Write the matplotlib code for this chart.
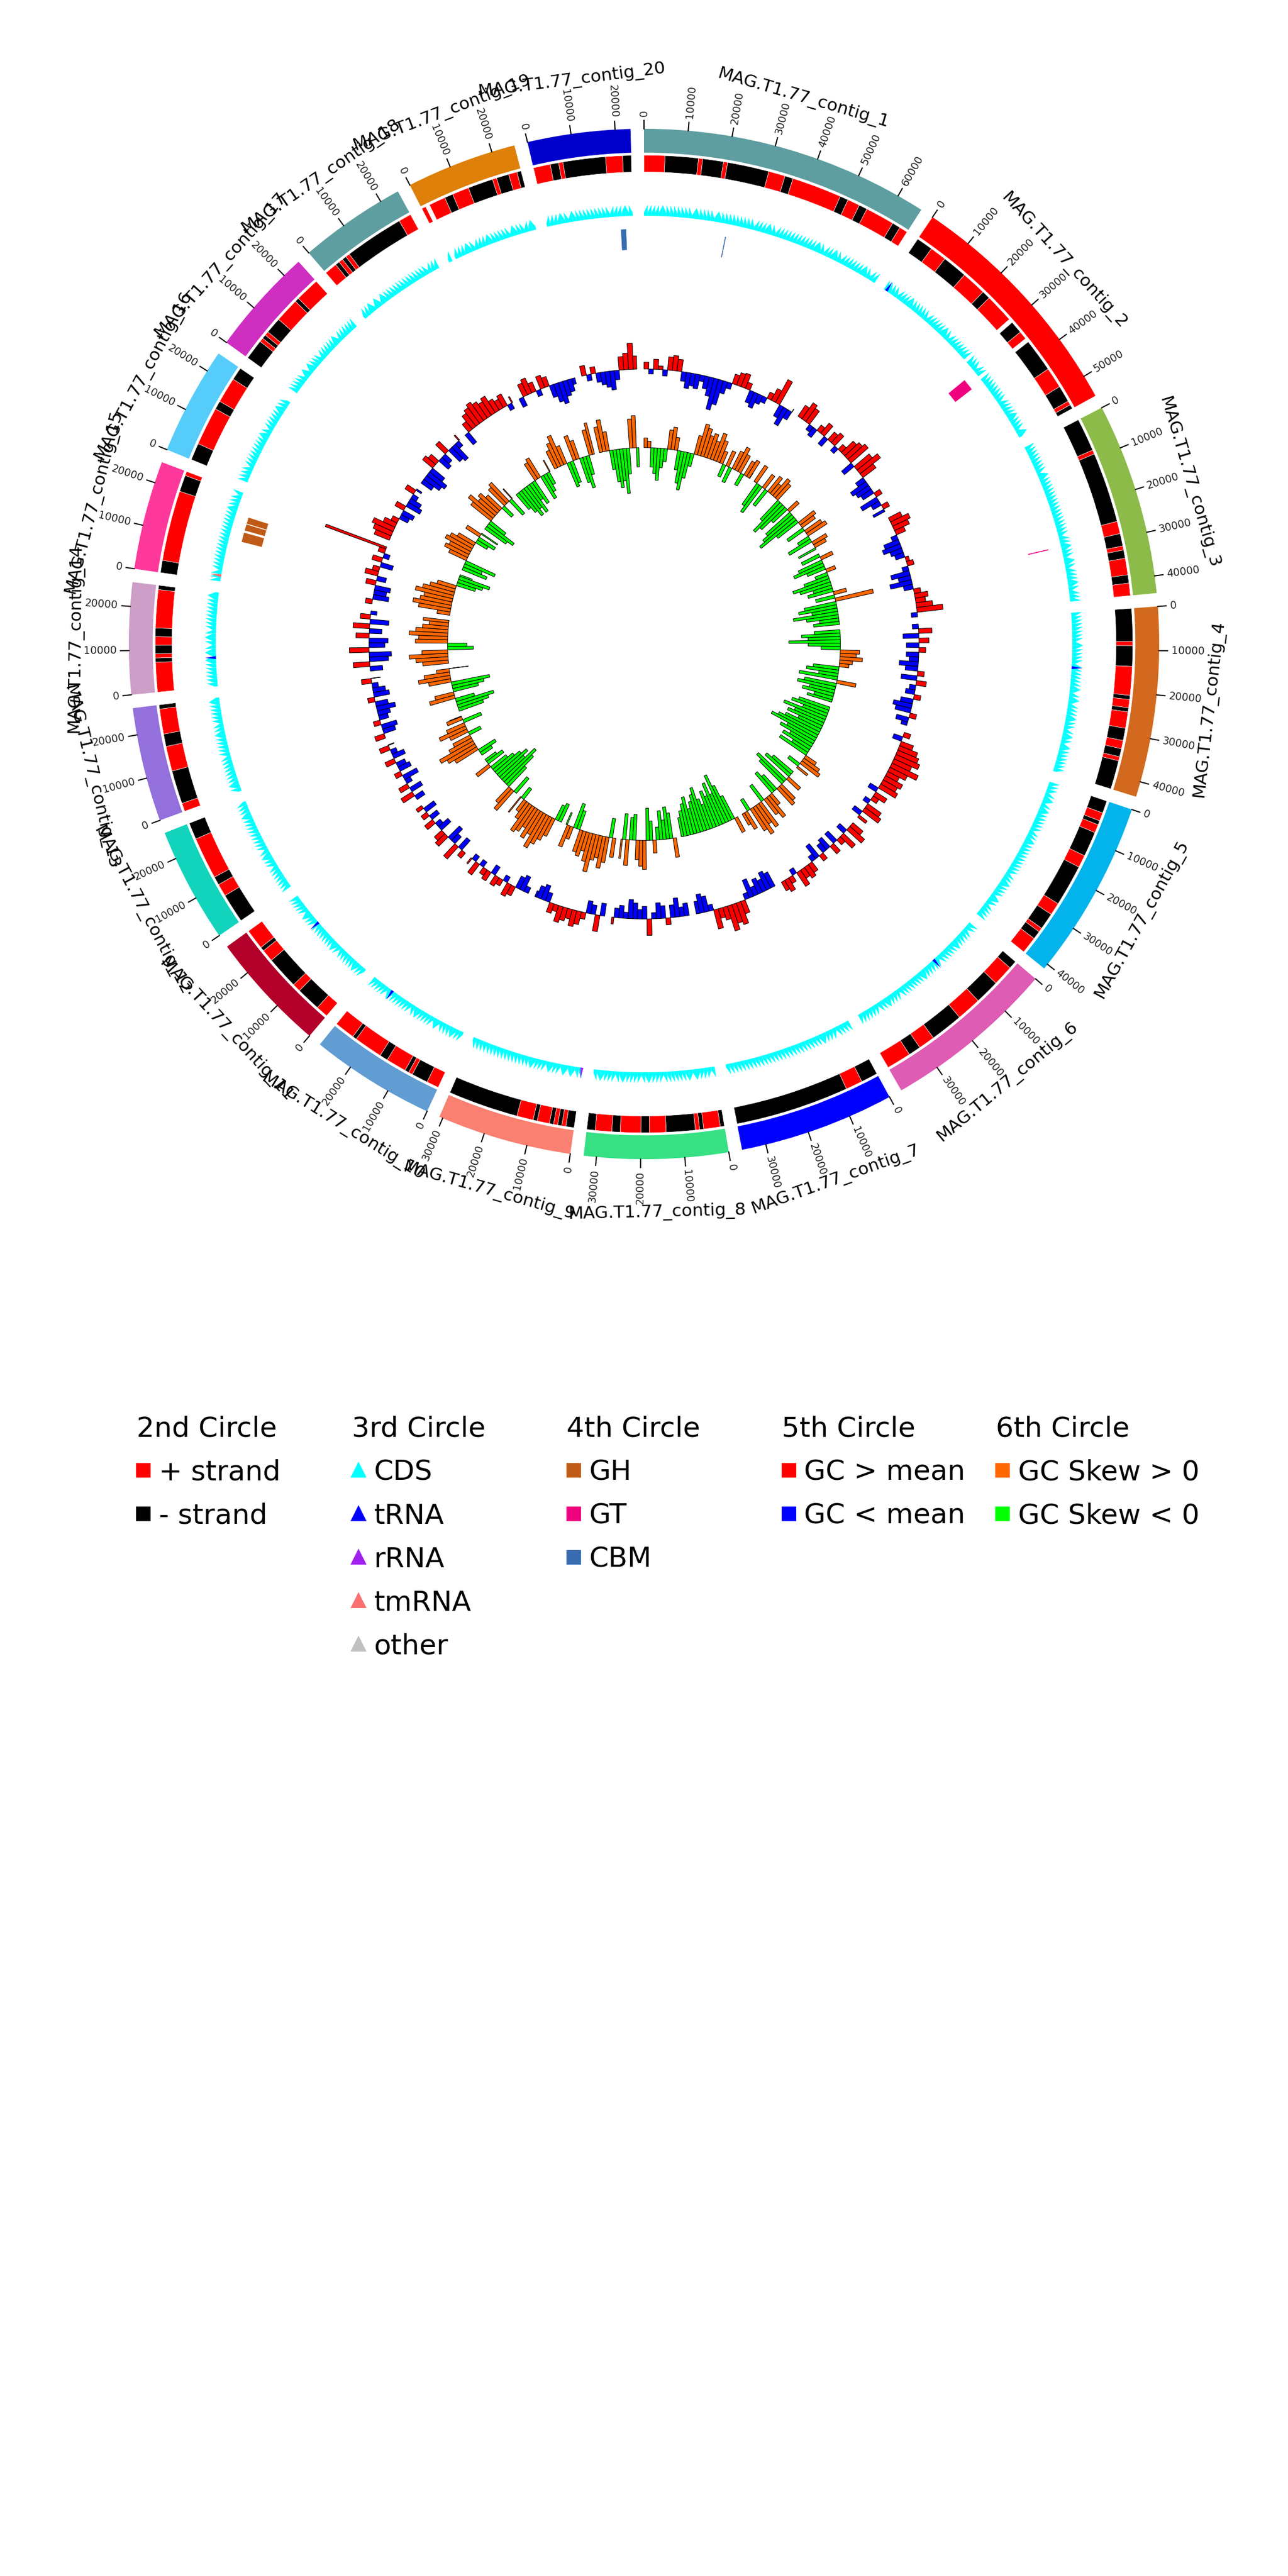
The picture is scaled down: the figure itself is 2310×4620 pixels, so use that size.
# circos-style plot of MAG.T1.77 contigs: strand, features, CAZymes, GC content, GC skew

import numpy as np
import matplotlib
matplotlib.use("Agg")
import matplotlib.pyplot as plt
from matplotlib.lines import Line2D

contig_names = ["MAG.T1.77_contig_%d" % i for i in range(1, 21)]
contig_sizes = [66100, 55100, 43900, 43500, 41200, 39600, 35500, 32900, 30800, 28600,
                27500, 26300, 26100, 25500, 24900, 24700, 24500, 24500, 25300, 23500]
contig_colors = ["#5F9EA0", "#FF0000", "#8CBB4A", "#D2691E", "#03B3EB", "#DE5CB4", "#0000FF",
                 "#36E083", "#FA8072", "#619CD3", "#B3002A", "#12D4BC", "#9370DB", "#CC9EC8",
                 "#FF389C", "#56CCFA", "#CF2FC1", "#5F9EA0", "#DE800A", "#0000CD"]

# 2nd circle: runs of genes, "+N" plus strand, "-N" minus strand, ".N" no gene
strand_runs = [
    "+5 -8 +1 -5 +1 -10 +4 -2 +12 -2 +3 -2 +7 -2 +2",
    "-4 +4 -6 +6 -2 +7 .1 -3 +2 .1 -8 +5 -4 +1 -1",
    "-8 +1 -17 +3 -3 +1 -2 +4 -2 +3",
    "-8 +1 -5 +7 -1 +2 -1 +4 -3 +2 -2 +1 -7",
    "-3 +2 -1 +2 -6 +3 -10 +3 -4 +1 -2 +4",
    "-2 +5 -6 +6 -8 +4 -3 +6",
    "-4 +4 -27",
    "-1 +4 -1 +1 -7 +4 -2 +5 -2 +4 -2",
    "-2 +1 -1 +1 -1 +3 -1 +4 -17",
    "+3 -4 +1 -1 +5 -2 +7 -1 +5",
    "+3 -6 +2 -8 +3 -1 +5",
    "-7 +3 -2 +10 -4",
    "+2 -8 +6 -3 +6 -1",
    "+7 -1 +1 -2 +2 -2 +9 -1",
    "-3 +17 -4 +1",
    "-4 +9 -2 +6 -3",
    "-5 +1 -1 +1 -4 +6 -1 +6",
    "+3 -1 +1 -1 +1 -14 +3",
    "+1 .1 +4 -2 +4 -6 +1 -3 +2 -1",
    "+4 -2 +1 -10 +4 -2",
]

# 3rd circle: non-CDS features (contig number, position bp, type)
rna_features = [(2, 800, "tRNA"), (4, 14900, "tRNA"), (6, 14100, "tRNA"), (10, 22400, "tRNA"),
                (11, 18200, "tRNA"), (14, 7800, "tRNA"), (9, 200, "rRNA"), (15, 1600, "tmRNA")]

# 4th circle: CAZymes (contig number, start, end, family)
cazymes = [(1, 22800, 23200, "CBM"), (20, 20000, 21600, "CBM"), (2, 33400, 36800, "GT"),
           (3, 28600, 29000, "GT"), (15, 11800, 14600, "GH"), (15, 15100, 17000, "GH"),
           (15, 17100, 19000, "GH")]

# 5th / 6th circle: GC content (%) and GC skew per 2 kb window
gc_window = 2000
gc_content = [
    [52, 48.4, 53, 51, 48, 54, 54.6, 53.6, 47, 45, 46, 45.4, 48, 46, 44, 40, 42, 46, 48, 53,
     54, 54.4, 52, 46, 45, 47, 48, 52, 54, 58, 46, 44, 47, 51],
    [54, 56, 55, 48, 47, 52, 54, 47, 53, 54, 48, 52, 55, 56, 57, 46, 56, 58, 55, 47, 44, 45,
     46, 52, 44, 47, 52, 46],
    [54, 56, 55, 53, 48, 45, 44, 46, 47, 51, 52, 48, 44, 46, 43, 47, 52, 54, 53, 55, 58, 48],
    [48, 54, 45, 53, 46, 52, 46, 47, 44, 46, 52, 45, 53, 48, 47, 52, 46, 44, 45, 52, 46, 48],
    [52, 47, 54, 56, 57, 58, 56, 59, 56, 54, 56, 55, 56, 47, 54, 52, 48, 55, 56, 47, 53],
    [54, 56, 47, 55, 52, 46, 53, 46, 47, 52, 45, 48, 53, 54, 53, 55, 48, 52, 54, 53],
    [45, 44, 46, 45, 47, 44, 48, 54, 57, 56, 58, 54, 53, 56, 48, 45, 44, 46],
    [46, 47, 44, 46, 52, 46, 45, 48, 55, 46, 47, 45, 44, 48, 46, 47, 52],
    [46, 55, 47, 46, 52, 54, 55, 53, 54, 55, 52, 53, 47, 45, 46, 48],
    [48, 45, 46, 53, 54, 48, 52, 53, 47, 53, 52, 48, 54, 48, 52],
    [52, 46, 55, 47, 45, 54, 53, 46, 48, 53, 47, 52, 46, 52],
    [47, 54, 46, 53, 48, 45, 52, 46, 47, 53, 46, 48, 53, 48],
    [53, 46, 45, 52, 47, 46, 44, 46, 52, 45, 46, 48, 53, 47],
    [46, 55, 44, 43, 56, 45, 44, 54, 46, 55, 44, 53, 48],
    [52, 45, 46, 45, 53, 47, 54, 52, 46, 53, 48, 52, 70],
    [55, 56, 57, 54, 52, 47, 46, 53, 45, 46, 48, 53, 48],
    [46, 44, 43, 45, 54, 53, 46, 47, 54, 45, 44, 48, 52],
    [46, 53, 55, 56, 57, 56, 55, 56, 54, 53, 54, 48, 52],
    [47, 54, 55, 53, 48, 54, 53, 46, 44, 43, 45, 46, 48],
    [53, 48, 52, 47, 46, 45, 44, 47, 54, 55, 58, 54],
]
gc_skew = [
    [0.06, 0.04, -0.12, -0.16, -0.20, -0.12, -0.08, 0.12, 0.14, 0.08, -0.12, -0.20, -0.24,
     -0.16, -0.08, 0.12, 0.20, 0.18, 0.14, 0.16, 0.12, 0.18, 0.14, 0.08, -0.08, 0.10, -0.10,
     0.12, 0.16, 0.12, -0.08, 0.10, 0.12, 0.04],
    [0.12, -0.16, -0.20, 0.10, -0.12, 0.12, 0.08, 0.14, 0.12, -0.16, -0.24, -0.20, -0.12, 0.08,
     -0.20, -0.24, -0.28, -0.16, 0.12, 0.10, -0.12, 0.12, 0.14, -0.08, -0.16, 0.10, 0.08, -0.12],
    [-0.12, 0.08, -0.16, -0.20, -0.12, 0.06, -0.08, -0.16, -0.24, -0.20, -0.12, -0.16, 0.08,
     -0.12, 0.24, -0.20, -0.24, -0.16, -0.28, -0.20, -0.12, -0.16],
    [-0.16, -0.24, -0.20, -0.32, -0.20, -0.12, 0.12, 0.10, 0.14, 0.08, 0.06, -0.16, -0.20,
     -0.12, -0.24, 0.12, -0.20, -0.24, -0.16, -0.20, -0.12, -0.16],
    [-0.20, -0.24, -0.16, -0.28, -0.20, -0.24, -0.16, -0.24, -0.28, -0.32, -0.20, -0.24, -0.16,
     -0.20, -0.12, -0.20, 0.08, 0.12, 0.14, -0.08, 0.08],
    [-0.16, -0.20, 0.10, -0.24, -0.20, 0.12, 0.14, -0.12, -0.16, 0.08, 0.16, 0.12, -0.12, 0.18,
     0.14, 0.20, 0.16, -0.08, 0.12, 0.08],
    [0.10, -0.16, -0.24, -0.32, -0.20, -0.28, -0.20, -0.24, -0.16, -0.20, -0.28, -0.24, -0.20,
     -0.16, -0.24, -0.20, -0.16, -0.12],
    [0.12, -0.16, -0.20, -0.12, -0.18, -0.08, 0.08, -0.12, -0.20, 0.18, 0.16, 0.12, -0.16,
     -0.14, 0.16, -0.16, 0.12],
    [0.12, -0.12, 0.16, 0.20, 0.14, 0.16, 0.24, 0.18, 0.12, 0.16, 0.14, -0.12, -0.16, 0.08,
     0.14, -0.08],
    [-0.12, -0.10, 0.12, 0.16, 0.20, 0.24, 0.16, 0.20, 0.14, 0.18, 0.20, 0.12, 0.08, -0.08, 0.12],
    [-0.12, 0.16, 0.12, -0.16, -0.24, -0.28, -0.20, -0.24, -0.20, -0.16, -0.12, 0.10, -0.12, -0.08],
    [-0.08, -0.12, 0.16, 0.20, 0.24, 0.16, 0.12, -0.08, 0.12, 0.18, 0.12, -0.12, 0.10, 0.08],
    [-0.16, -0.20, -0.24, -0.12, 0.16, 0.12, -0.16, -0.20, -0.24, 0.14, 0.20, 0.16, 0.08, -0.12],
    [0.16, 0.20, 0.24, 0.16, -0.16, -0.12, 0.20, 0.18, 0.24, 0.20, 0.16, 0.12, 0.16],
    [0.08, 0.20, 0.24, 0.20, 0.18, 0.24, 0.20, 0.16, 0.12, -0.12, -0.16, -0.20, -0.08],
    [-0.16, -0.12, -0.20, 0.12, 0.16, 0.14, 0.18, 0.16, 0.12, -0.08, -0.12, 0.10, -0.12],
    [-0.16, -0.20, -0.12, 0.16, 0.20, 0.14, 0.16, 0.12, -0.08, 0.14, 0.16, -0.12, 0.08],
    [-0.12, -0.16, -0.20, -0.16, -0.20, -0.12, -0.16, 0.12, 0.14, -0.16, -0.12, -0.08, 0.08],
    [0.12, 0.16, 0.20, 0.12, -0.16, -0.14, 0.16, 0.12, -0.16, -0.20, -0.12, 0.16, 0.20],
    [0.16, 0.20, 0.12, -0.12, -0.20, -0.24, -0.20, -0.28, -0.16, 0.18, 0.20, -0.12],
]

feature_colors = {"CDS": "#00FFFF", "tRNA": "#0000FF", "rRNA": "#A020F0", "tmRNA": "#FA7070",
                  "other": "#C0C0C0"}
cazy_colors = {"GH": "#BF5B17", "GT": "#F0027F", "CBM": "#386CB0"}

# radii (axis runs 0..100)
r_contig = (76.3, 80.0)
r_strand = (73.3, 75.9)
r_feat = (66.5, 68.2)
r_cazy = (61.2, 64.5)
gc_base, gc_scale = 42.7, 0.5
skew_base, skew_scale = 30.5, 25.0

space = 1.5
deg_per_bp = (360 - space * len(contig_sizes)) / sum(contig_sizes)
starts = []
pos = 0.0
for size in contig_sizes:
    starts.append(pos)
    pos += size * deg_per_bp + space


def rad(ci, bp):
    return np.deg2rad(starts[ci] + np.asarray(bp) * deg_per_bp)


fig = plt.figure(figsize=(7.7, 15.4), dpi=300)
ax = fig.add_axes([0, 0.5, 1, 0.5], projection="polar")
ax.set_theta_zero_location("N")
ax.set_theta_direction(-1)
ax.set_ylim(0, 100)
ax.axis("off")

gc_mean = np.mean(np.concatenate([np.array(x, dtype=float) for x in gc_content]))
fb, fh = r_feat[0], r_feat[1] - r_feat[0]

for ci, size in enumerate(contig_sizes):
    # outer contig ring
    ax.bar(rad(ci, 0), r_contig[1] - r_contig[0], width=np.deg2rad(size * deg_per_bp),
           bottom=r_contig[0], align="edge", color=contig_colors[ci], linewidth=0)

    # ticks every 10 kb
    for v in range(0, size, 10000):
        th = rad(ci, v)
        deg = starts[ci] + v * deg_per_bp
        ax.plot([th, th], [80.0, 81.3], color="black", lw=0.5)
        if deg <= 180:
            rot, ha = 90 - deg, "left"
        else:
            rot, ha = 270 - deg, "right"
        ax.text(th, 81.9, str(v), rotation=rot, ha=ha, va="center",
                rotation_mode="anchor", fontsize=4.5, color="#222222")

    # contig name
    mid = starts[ci] + size * deg_per_bp / 2
    rot = -mid if (mid <= 90 or mid >= 270) else 180 - mid
    ax.text(np.deg2rad(mid), 88.3, contig_names[ci], rotation=rot, ha="center", va="center",
            rotation_mode="anchor", fontsize=7.5)

    # genes: strand ring (one block per run) + CDS arrows (one per gene)
    runs = [(tok[0], int(tok[1:])) for tok in strand_runs[ci].split()]
    n_genes = sum(n for _, n in runs)
    gene_len = size / n_genes
    g = 0
    for kind, n in runs:
        s_run, e_run = g * gene_len, (g + n) * gene_len
        if kind != ".":
            ax.bar(rad(ci, s_run), r_strand[1] - r_strand[0],
                   width=np.deg2rad((e_run - s_run) * deg_per_bp), bottom=r_strand[0],
                   align="edge", color="#FF0000" if kind == "+" else "#000000",
                   edgecolor="white", linewidth=0.15)
            for k in range(n):
                s, e = (g + k) * gene_len, (g + k + 1) * gene_len
                if kind == "+":
                    ys = [fb, fb + 0.3 * fh, fb + fh, fb]
                else:
                    ys = [fb, fb + fh, fb + 0.3 * fh, fb]
                ax.fill(rad(ci, [s, s, e, e]), ys, color=feature_colors["CDS"], linewidth=0)
        g += n

    # GC content
    vals = np.array(gc_content[ci], dtype=float)
    wstart = np.arange(len(vals)) * gc_window
    wlen = np.minimum(gc_window, size - wstart)
    dev = (vals - gc_mean) * gc_scale
    ax.bar(rad(ci, wstart), dev, width=np.deg2rad(wlen * deg_per_bp), bottom=gc_base,
           align="edge", color=np.where(dev >= 0, "#FF0000", "#0000FF"),
           edgecolor="black", linewidth=0.25)

    # GC skew
    sk = np.array(gc_skew[ci], dtype=float)
    wstart = np.arange(len(sk)) * gc_window
    wlen = np.minimum(gc_window, size - wstart)
    ax.bar(rad(ci, wstart), sk * skew_scale, width=np.deg2rad(wlen * deg_per_bp),
           bottom=skew_base, align="edge", color=np.where(sk >= 0, "#FF6600", "#00FF00"),
           edgecolor="black", linewidth=0.25)

for cno, p, kind in rna_features:
    ci = cno - 1
    ax.fill(rad(ci, [p - 400, p, p + 400]), [fb, fb + fh, fb],
            color=feature_colors[kind], linewidth=0)

for cno, s, e, fam in cazymes:
    ci = cno - 1
    ax.bar(rad(ci, s), r_cazy[1] - r_cazy[0], width=np.deg2rad((e - s) * deg_per_bp),
           bottom=r_cazy[0], align="edge", color=cazy_colors[fam], edgecolor="white",
           linewidth=0.2)

# legends
legend_groups = [
    ("2nd Circle", ["+ strand", "- strand"], ["s", "s"], ["#FF0000", "#000000"]),
    ("3rd Circle", ["CDS", "tRNA", "rRNA", "tmRNA", "other"], ["^"] * 5,
     [feature_colors[k] for k in ["CDS", "tRNA", "rRNA", "tmRNA", "other"]]),
    ("4th Circle", ["GH", "GT", "CBM"], ["s"] * 3, [cazy_colors[k] for k in ["GH", "GT", "CBM"]]),
    ("5th Circle", ["GC > mean", "GC < mean"], ["s", "s"], ["#FF0000", "#0000FF"]),
    ("6th Circle", ["GC Skew > 0", "GC Skew < 0"], ["s", "s"], ["#FF6600", "#00FF00"]),
]
legend_x = [0.106, 0.273, 0.440, 0.607, 0.773]
for (title, labels, markers, colors), x in zip(legend_groups, legend_x):
    handles = [Line2D([], [], marker=m, color=c, linestyle="none", markersize=5.3)
               for m, c in zip(markers, colors)]
    fig.legend(handles, labels, title=title, loc="upper left", bbox_to_anchor=(x, 0.4505),
               frameon=False, fontsize=12, title_fontsize=12, alignment="left",
               handlelength=0.5, handletextpad=0.3, labelspacing=0.6,
               borderpad=0, borderaxespad=0)

fig.savefig("out.png", dpi=300)
